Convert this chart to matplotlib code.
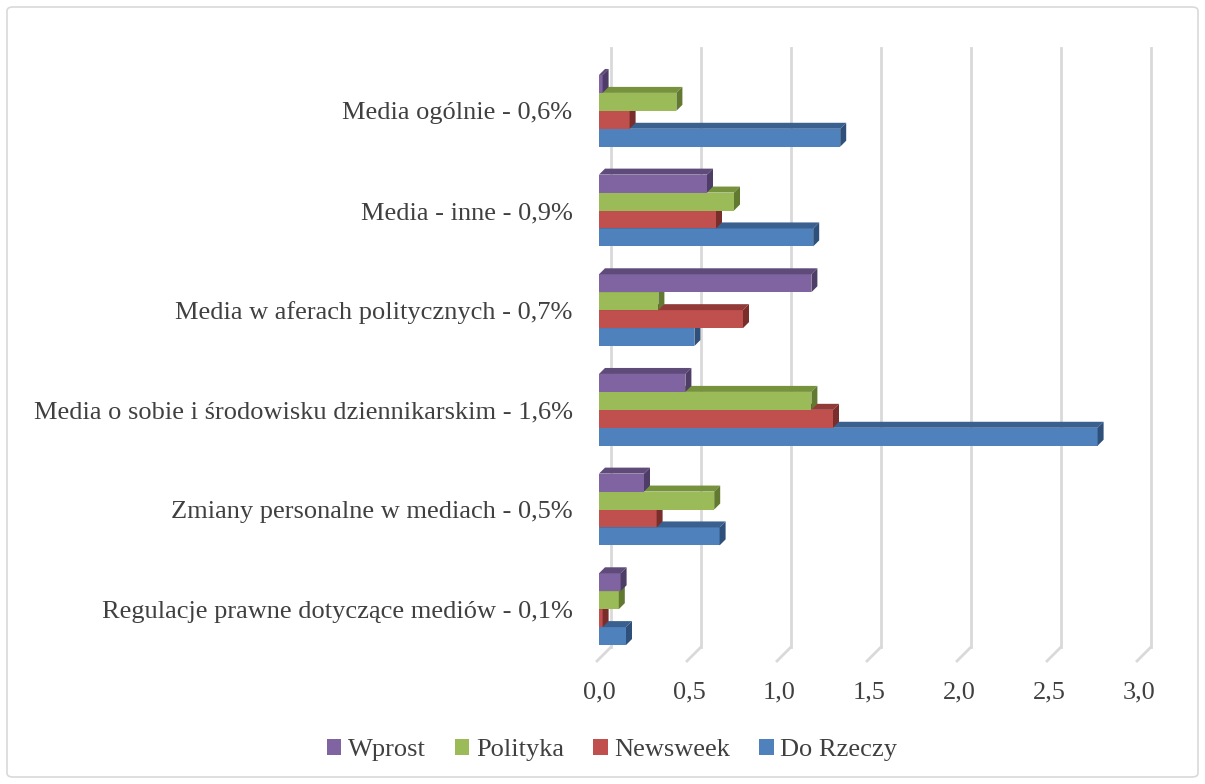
import matplotlib
matplotlib.use("Agg")
import matplotlib.pyplot as plt
from matplotlib.patches import Polygon, Rectangle, FancyBboxPatch
import numpy as np

categories = [
    "Regulacje prawne dotyczące mediów - 0,1%",
    "Zmiany personalne w mediach - 0,5%",
    "Media o sobie i środowisku dziennikarskim - 1,6%",
    "Media w aferach politycznych - 0,7%",
    "Media - inne - 0,9%",
    "Media ogólnie - 0,6%",
]
series_names = ["Wprost", "Polityka", "Newsweek", "Do Rzeczy"]
wprost = [0.12, 0.25, 0.48, 1.18, 0.60, 0.02]
polityka = [0.11, 0.64, 1.18, 0.33, 0.75, 0.43]
newsweek = [0.02, 0.32, 1.30, 0.80, 0.65, 0.17]
do_rzeczy = [0.15, 0.67, 2.77, 0.53, 1.19, 1.34]
xticks = [0.0, 0.5, 1.0, 1.5, 2.0, 2.5, 3.0]
xtick_labels = ["0,0", "0,5", "1,0", "1,5", "2,0", "2,5", "3,0"]

colors = ["#8064A2", "#9BBB59", "#C0504D", "#4F81BD"]
top_colors = ["#5F4B7A", "#76923C", "#923A37", "#3A6090"]
side_colors = ["#4E3D66", "#617A30", "#7A2E2C", "#2F507A"]

plt.rcParams['font.family'] = ['Liberation Serif', 'DejaVu Serif']
W, H = 1205, 784
fig = plt.figure(figsize=(W / 100, H / 100), dpi=100)

x0_px, px_per_unit = 599, 180
y_top_px, y_bot_px = 61, 659
ax = fig.add_axes([x0_px / W, (H - y_bot_px) / H, 3 * px_per_unit / W, (y_bot_px - y_top_px) / H])
ax.set_xlim(0, 3)
ax.set_ylim(-0.5, 5.5)
ypp = 6.0 / (y_bot_px - y_top_px)  # data per px in y
xpp = 1.0 / px_per_unit

# gridlines (back wall + floor diagonals)
grid_c = "#D9D9D9"
gdx = 14 * xpp
for xv in xticks:
    yb = -0.5 - 2 * ypp
    yf = -0.5 + 12 * ypp
    ytop = 5.5 + 13 * ypp
    ax.plot([xv - 2 * xpp, xv - 2 * xpp + gdx], [yb, yf], color=grid_c, lw=2, clip_on=False, zorder=1)
    ax.plot([xv - 2 * xpp + gdx] * 2, [yf, ytop], color=grid_c, lw=2, clip_on=False, zorder=1)

data = [wprost, polityka, newsweek, do_rzeczy]
bh = 0.18
ddx = 6 * xpp
ddy = 6 * ypp
ypos = np.arange(len(categories))
# draw bottom bar (Do Rzeczy) first so upper bars occlude top faces
for si in [3, 2, 1, 0]:
    vals = data[si]
    offs = (1.5 - si) * bh
    for ci, v in enumerate(vals):
        yc = ypos[ci] + offs
        y0, y1 = yc - bh / 2, yc + bh / 2
        ax.barh(yc, v, height=bh, left=0, color=colors[si], edgecolor="none", zorder=3 + (3 - si))
        top = Polygon([(0, y1), (v, y1), (v + ddx, y1 + ddy), (ddx, y1 + ddy)],
                      closed=True, facecolor=top_colors[si], edgecolor="none", zorder=3 + (3 - si), clip_on=False)
        side = Polygon([(v, y0), (v + ddx, y0 + ddy), (v + ddx, y1 + ddy), (v, y1)],
                       closed=True, facecolor=side_colors[si], edgecolor="none", zorder=3 + (3 - si), clip_on=False)
        ax.add_patch(top)
        ax.add_patch(side)

for s in ax.spines.values():
    s.set_visible(False)
fs = 19
ax.set_yticks(ypos)
ax.set_yticklabels(categories, fontsize=fs, color="#404040")
ax.tick_params(axis='y', length=0, pad=19)
ax.set_xticks(xticks)
ax.set_xticklabels(xtick_labels, fontsize=fs, color="#404040")
ax.tick_params(axis='x', length=0, pad=16)

handles = [Rectangle((0, 0), 1, 1, facecolor=c, edgecolor="none") for c in colors]
fig.legend(handles, series_names, loc="center", bbox_to_anchor=(612 / W, 1 - 750 / H), ncol=4,
           frameon=False, fontsize=fs, handlelength=0.55, handleheight=0.55, handletextpad=0.25,
           columnspacing=1.1, labelcolor="#404040")

border = FancyBboxPatch((7 / W, 7 / H), (W - 14) / W, (H - 14) / H, boxstyle="round,pad=0,rounding_size=0.005",
                        transform=fig.transFigure, facecolor="none", edgecolor="#D9D9D9", lw=1.2)
fig.patches.append(border)

fig.savefig("out.png", dpi=100)
